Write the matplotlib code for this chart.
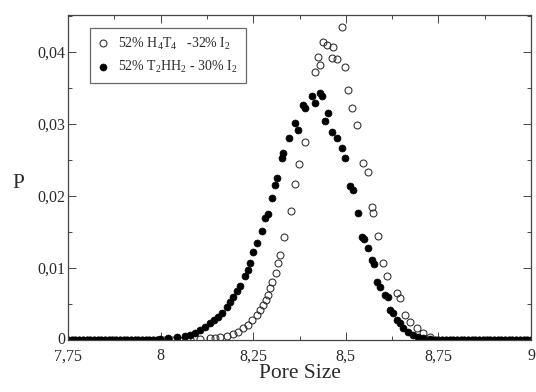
import matplotlib
matplotlib.use("Agg")
import matplotlib.pyplot as plt
import matplotlib.transforms as mtransforms
from matplotlib.ticker import MultipleLocator

plt.rcParams['font.family'] = ['Liberation Serif', 'DejaVu Serif']
plt.rcParams['mathtext.fontset'] = 'custom'
plt.rcParams['mathtext.rm'] = 'Liberation Serif'
plt.rcParams['mathtext.it'] = 'Liberation Serif:italic'

# 52% H4T4 - 32% I2 (open circles)
h4t4_x = [7.75, 7.76, 7.77, 7.78, 7.79, 7.80, 7.81, 7.82, 7.83, 7.84, 7.85,
          7.86, 7.87, 7.88, 7.89, 7.90, 7.91, 7.92, 7.93, 7.94, 7.95, 7.96,
          7.97, 7.98, 7.99, 8.00, 8.01, 8.02, 8.03, 8.04, 8.05, 8.06, 8.07,
          8.079, 8.106, 8.133, 8.147, 8.160, 8.179, 8.195, 8.209, 8.222,
          8.236, 8.247, 8.260, 8.268, 8.276, 8.285, 8.290, 8.295, 8.301,
          8.312, 8.317, 8.322, 8.333, 8.352, 8.363, 8.374, 8.390, 8.417,
          8.425, 8.430, 8.438, 8.449, 8.463, 8.465, 8.476, 8.490, 8.503,
          8.498, 8.506, 8.517, 8.530, 8.546, 8.560, 8.571, 8.573, 8.587,
          8.600, 8.611, 8.638, 8.646, 8.660, 8.673, 8.692, 8.708, 8.727,
          8.74, 8.75, 8.76, 8.77, 8.78, 8.79, 8.80, 8.81, 8.82, 8.83, 8.84,
          8.85, 8.86, 8.87, 8.88, 8.89, 8.90, 8.91, 8.92, 8.93, 8.94, 8.95,
          8.96, 8.97, 8.98, 8.99, 9.00]
h4t4_p = [0, 0, 0, 0, 0, 0, 0, 0, 0, 0, 0,
          0, 0, 0, 0, 0, 0, 0, 0, 0, 0, 0,
          0, 0, 0, 0, 0, 0, 0, 0, 0, 0, 0,
          0.00014, 0.00014, 0.00028, 0.00028, 0.00042, 0.00056, 0.00083,
          0.00111, 0.00167, 0.00208, 0.00278, 0.00347, 0.00417, 0.00486,
          0.00556, 0.00625, 0.00722, 0.00806, 0.00931, 0.01069, 0.01181,
          0.01431, 0.01792, 0.02167, 0.02444, 0.02750, 0.03722, 0.03931,
          0.03819, 0.04139, 0.04097, 0.03917, 0.04069, 0.03903, 0.04347,
          0.04620, 0.03792, 0.03472, 0.03222, 0.02986, 0.02458, 0.02333,
          0.01847, 0.01764, 0.01444, 0.01069, 0.00889, 0.00653, 0.00583,
          0.00347, 0.00250, 0.00167, 0.00097, 0.00042,
          0, 0, 0, 0, 0, 0, 0, 0, 0, 0, 0,
          0, 0, 0, 0, 0, 0, 0, 0, 0, 0, 0,
          0, 0, 0, 0, 0]

# 52% T2HH2 - 30% I2 (filled circles)
t2hh2_x = [7.75, 7.76, 7.77, 7.78, 7.79, 7.80, 7.81, 7.82, 7.83, 7.84, 7.85,
           7.86, 7.87, 7.88, 7.89, 7.90, 7.91, 7.92, 7.93, 7.94, 7.95, 7.96,
           7.97, 7.98, 7.99, 7.998, 8.020, 8.044, 8.066, 8.079, 8.093, 8.106,
           8.120, 8.133, 8.144, 8.155, 8.166, 8.179, 8.187, 8.195, 8.206,
           8.214, 8.228, 8.236, 8.241, 8.249, 8.260, 8.274, 8.282, 8.290,
           8.301, 8.309, 8.314, 8.328, 8.330, 8.347, 8.363, 8.371, 8.384,
           8.390, 8.409, 8.417, 8.430, 8.436, 8.444, 8.452, 8.463, 8.476,
           8.490, 8.498, 8.511, 8.519, 8.533, 8.544, 8.549, 8.560, 8.571,
           8.576, 8.584, 8.592, 8.606, 8.614, 8.619, 8.627, 8.638, 8.646,
           8.654, 8.668, 8.681, 8.695, 8.708, 8.727,
           8.74, 8.75, 8.76, 8.77, 8.78, 8.79, 8.80, 8.81, 8.82, 8.83, 8.84,
           8.85, 8.86, 8.87, 8.88, 8.89, 8.90, 8.91, 8.92, 8.93, 8.94, 8.95,
           8.96, 8.97, 8.98, 8.99, 9.00]
t2hh2_p = [0, 0, 0, 0, 0, 0, 0, 0, 0, 0, 0,
           0, 0, 0, 0, 0, 0, 0, 0, 0, 0, 0,
           0, 0, 0, 0.00014, 0.00028, 0.00042, 0.00056, 0.00069, 0.00097,
           0.00139, 0.00181, 0.00236, 0.00278, 0.00319, 0.00375, 0.00458,
           0.00528, 0.00597, 0.00681, 0.00750, 0.00889, 0.00972, 0.01069,
           0.01222, 0.01347, 0.01514, 0.01694, 0.01750, 0.01972, 0.02153,
           0.02250, 0.02528, 0.02597, 0.02806, 0.03014, 0.02917, 0.03264,
           0.03222, 0.03389, 0.03292, 0.03431, 0.03389, 0.03042, 0.03153,
           0.02889, 0.02806, 0.02667, 0.02528, 0.02139, 0.02083, 0.01764,
           0.01431, 0.01403, 0.01278, 0.01111, 0.01056, 0.00806, 0.00736,
           0.00625, 0.00597, 0.00417, 0.00375, 0.00278, 0.00236, 0.00167,
           0.00111, 0.00069, 0.00042, 0.00028, 0.00014,
           0, 0, 0, 0, 0, 0, 0, 0, 0, 0, 0,
           0, 0, 0, 0, 0, 0, 0, 0, 0, 0, 0,
           0, 0, 0, 0, 0]

x_ticks = [7.75, 8.0, 8.25, 8.5, 8.75, 9.0]
x_tick_labels = ["7,75", "8", "8,25", "8,5", "8,75", "9"]
y_ticks = [0.0, 0.01, 0.02, 0.03, 0.04]
y_tick_labels = ["0", "0,01", "0,02", "0,03", "0,04"]

ink = '#2a2a2a'

fig = plt.figure(figsize=(5.36, 3.92), dpi=100)
ax = fig.add_axes([68 / 536, 1 - 340 / 392, (531 - 68) / 536, (340 - 15) / 392])

ax.plot(h4t4_x, h4t4_p, linestyle='none', marker='o', markersize=5,
        markerfacecolor='none', markeredgecolor=ink, markeredgewidth=0.75,
        label=r'52% H$_4$T$_4$   -32% I$_2$')
ax.plot(t2hh2_x, t2hh2_p, linestyle='none', marker='o', markersize=5,
        markerfacecolor='black', markeredgecolor='black', markeredgewidth=0.5,
        label=r'52% T$_2$HH$_2$ - 30% I$_2$')

ax.set_xlim(7.75, 9.0)
ax.set_ylim(0, 0.0451)
ax.set_xticks(x_ticks)
ax.set_xticklabels(x_tick_labels)
ax.set_yticks(y_ticks)
ax.set_yticklabels(y_tick_labels)
ax.xaxis.set_minor_locator(MultipleLocator(0.125))
ax.yaxis.set_minor_locator(MultipleLocator(0.005))
ax.tick_params(which='both', direction='in', top=True, right=True,
               labelsize=11.5, width=0.7, colors='#444444', labelcolor=ink)
ax.tick_params(axis='x', which='major', pad=6)
ax.tick_params(axis='y', which='major', pad=2)
ax.tick_params(which='major', length=6)
ax.tick_params(which='minor', length=3)
for s in ax.spines.values():
    s.set_linewidth(0.9)
    s.set_color('#444444')

# lift the zero label slightly so it clears the first x label
zero_lbl = ax.get_yticklabels()[0]
zero_lbl.set_transform(zero_lbl.get_transform() +
                       mtransforms.ScaledTranslation(0, 2 / 100, fig.dpi_scale_trans))

ax.set_xlabel('Pore Size', fontsize=15.5, labelpad=0, color=ink)
fig.text(18 / 536, 1 - 183 / 392, 'P', fontsize=15.5, ha='center', va='center',
         color=ink)

leg = ax.legend(loc='upper left', bbox_to_anchor=(22 / 463, 1 - 13 / 325),
                fontsize=10, frameon=True, fancybox=False, handlelength=0.8,
                handletextpad=0.7, borderpad=0.55, labelspacing=0.55,
                borderaxespad=0)
leg.get_frame().set_edgecolor('#444444')
leg.get_frame().set_linewidth(0.9)
for t in leg.get_texts():
    t.set_color(ink)

fig.savefig('out.png', dpi=100)
